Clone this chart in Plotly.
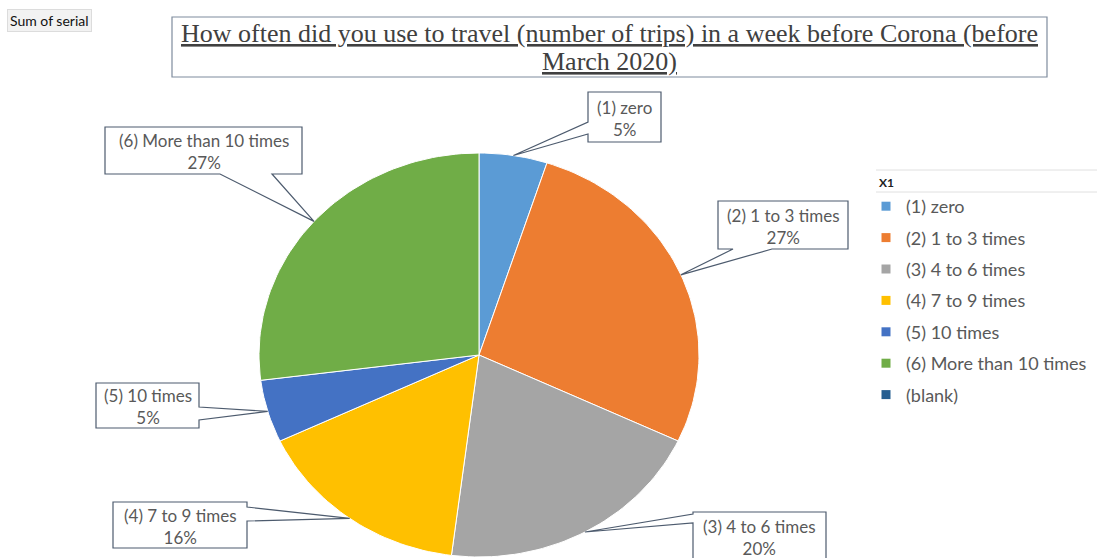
import math
import plotly.graph_objects as go

# Survey categories and their shares (percent of respondents)
labels = ["(1) zero", "(2) 1 to 3 times", "(3) 4 to 6 times", "(4) 7 to 9 times",
          "(5) 10 times", "(6) More than 10 times", "(blank)"]
values = [5, 27, 20, 16, 5, 27, 0]
colors = ["#5B9BD5", "#ED7D31", "#A5A5A5", "#FFC000", "#4472C4", "#70AD47", "#255E91"]

title_lines = ["How often did you use to travel (number of trips) in a week before Corona (before",
               "March 2020)"]

W, H = 1097, 558
# Pie geometry in the pixel-like axis space (slightly stretched ellipse)
CX, CY, RX, RY = 479, 355, 220, 202

# Callout boxes: (x0, y0, x1, y1, side the tail leaves from, tail base a, tail base b, text centre y)
callouts = {
    "(1) zero": (588, 92, 661, 142, "left", 122, 134, 118),
    "(2) 1 to 3 times": (718, 201, 848, 249, "bottom", 733, 772, 226),
    "(3) 4 to 6 times": (693, 512, 826, 575, "left", 514, 523, 537),
    "(4) 7 to 9 times": (113, 502, 247, 548, "right", 507, 521, 526),
    "(5) 10 times": (96, 383, 199, 428, "right", 407, 420, 406),
    "(6) More than 10 times": (105, 127, 302, 174, "bottom", 220, 272, 151),
}


def edge_point(frac):
    t = 2 * math.pi * frac
    return CX + RX * math.sin(t), CY - RY * math.cos(t)


def bubble_path(x0, y0, x1, y1, side, a, b, tip):
    tx, ty = tip
    pts = [(x0, y0)]
    if side == "top":
        pts += [(a, y0), (tx, ty), (b, y0)]
    pts.append((x1, y0))
    if side == "right":
        pts += [(x1, a), (tx, ty), (x1, b)]
    pts.append((x1, y1))
    if side == "bottom":
        pts += [(b, y1), (tx, ty), (a, y1)]
    pts.append((x0, y1))
    if side == "left":
        pts += [(x0, b), (tx, ty), (x0, a)]
    return "M" + "L".join(f"{px:.1f},{py:.1f}" for px, py in pts) + "Z"


fig = go.Figure()
total = sum(values)
shapes = []
annotations = []
cum = 0.0
for lab, val, col in zip(labels, values, colors):
    start = cum / total
    cum += val
    end = cum / total
    if val > 0:
        n = max(4, int(240 * (end - start)))
        xs, ys = [CX], [CY]
        for i in range(n + 1):
            px, py = edge_point(start + (end - start) * i / n)
            xs.append(px)
            ys.append(py)
        xs.append(CX)
        ys.append(CY)
        fig.add_trace(go.Scatter(
            x=xs, y=ys, mode="lines", fill="toself", fillcolor=col,
            line=dict(color="white", width=1), showlegend=False,
            name=lab, hoveron="fills",
            hovertemplate=f"{lab}: {val}%<extra></extra>"))
    if lab in callouts:
        x0, y0, x1, y1, side, a, b, ty = callouts[lab]
        tip = edge_point((start + end) / 2)
        shapes.append(dict(type="path", path=bubble_path(x0, y0, x1, y1, side, a, b, tip),
                           xref="x", yref="y", fillcolor="white",
                           line=dict(color="#4d5b6e", width=1.2), layer="above"))
        annotations.append(dict(x=(x0 + x1) / 2, y=ty, xref="x", yref="y",
                                text=f"{lab}<br>{round(100 * val / total)}%", showarrow=False,
                                font=dict(family="Lato", size=17, color="#595959"),
                                align="center"))
    # legend entries
    fig.add_trace(go.Scatter(x=[None], y=[None], mode="markers", name=lab, legendgroup=lab,
                             marker=dict(symbol="square", size=9, color=col)))

# Title box
shapes.append(dict(type="rect", x0=172, y0=17, x1=1047, y1=77, xref="x", yref="y",
                   line=dict(color="#7f8c9d", width=1.2), fillcolor="white", layer="above"))
for line_text, ly in zip(title_lines, [33, 61]):
    annotations.append(dict(x=(172 + 1047) / 2, y=ly, xref="x", yref="y", text=line_text,
                            showarrow=False, align="center",
                            font=dict(family="Liberation Serif", size=26, color="#404040",
                                      lineposition="under")))

# Field button
annotations.append(dict(x=7, y=20, xref="x", yref="y", xanchor="left", text="Sum of serial",
                        showarrow=False, bgcolor="#f2f2f2", bordercolor="#dcdcdc",
                        borderwidth=1, borderpad=2,
                        font=dict(family="Lato", size=14, color="#111111")))

# Legend header row
shapes.append(dict(type="line", x0=876, x1=1097, y0=170, y1=170, xref="x", yref="y",
                   line=dict(color="#e0e0e0", width=1)))
shapes.append(dict(type="line", x0=876, x1=1097, y0=192, y1=192, xref="x", yref="y",
                   line=dict(color="#e0e0e0", width=1)))
annotations.append(dict(x=877, y=182, xref="x", yref="y", xanchor="left", text="<b>X1</b>",
                        showarrow=False, font=dict(family="Lato", size=12, color="#222222")))

fig.update_layout(
    width=W, height=H,
    margin=dict(l=0, r=0, t=0, b=0),
    paper_bgcolor="white", plot_bgcolor="white",
    xaxis=dict(range=[0, W], visible=False, fixedrange=True),
    yaxis=dict(range=[H, 0], visible=False, fixedrange=True),
    shapes=shapes, annotations=annotations,
    showlegend=True,
    legend=dict(x=(906 - 40) / W, y=1 - 188 / H, xanchor="left", yanchor="top",
                tracegroupgap=5, bgcolor="rgba(0,0,0,0)",
                font=dict(family="Lato", size=18, color="#595959")),
)

fig.write_html("out.html")
